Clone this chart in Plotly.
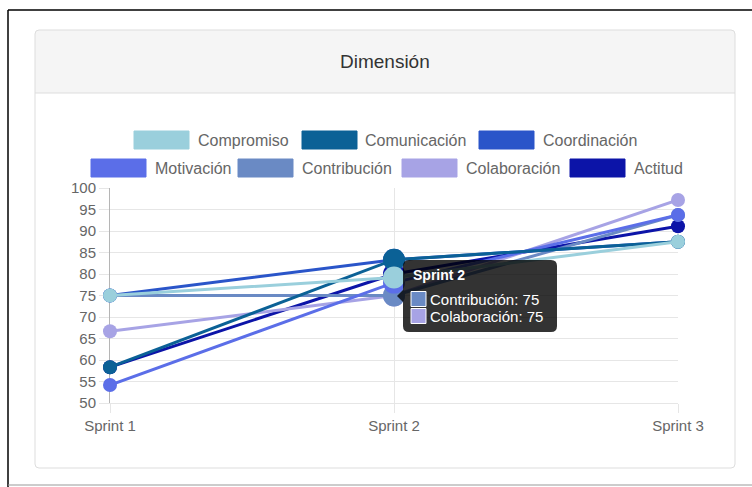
import plotly.graph_objects as go

# ---- data ----
sprints = ["Sprint 1", "Sprint 2", "Sprint 3"]
compromiso = [75, 79.17, 87.5]
comunicacion = [58.33, 83.33, 87.5]
coordinacion = [75, 83.33, 87.5]
motivacion = [54.17, 78, 93.75]
contribucion = [75, 75, 93.75]
colaboracion = [66.67, 75, 97.22]
actitud = [58.33, 80, 91.11]

names = ["Compromiso", "Comunicación", "Coordinación", "Motivación",
         "Contribución", "Colaboración", "Actitud"]
series = [compromiso, comunicacion, coordinacion, motivacion,
          contribucion, colaboracion, actitud]
colors = ["#9acfdc", "#0b6196", "#2a55c9", "#5b6ee8",
          "#6a8ac4", "#a7a3e5", "#0c14a8"]

W, H = 752, 487
PL, PR, PT, PB = 110, 678, 188, 403  # plot area in pixels

FONT = "Liberation Sans, Arial, Helvetica, sans-serif"


def px(x):
    return (x - PL) / (PR - PL)


def py(y):
    return (PB - y) / (PB - PT)


fig = go.Figure()

# first series drawn on top -> add in reverse order
for name, vals, col in reversed(list(zip(names, series, colors))):
    fig.add_trace(go.Scatter(
        x=sprints, y=vals, name=name, mode="lines+markers",
        line=dict(color=col, width=3),
        marker=dict(color=col, size=[14, 22, 14], opacity=1, line=dict(width=0)),
        cliponaxis=False, showlegend=False, hoverinfo="skip",
    ))

shapes = []
annotations = []

# page frame
shapes.append(dict(type="line", xref="paper", yref="paper",
                   x0=px(8), x1=px(760), y0=py(10), y1=py(10),
                   line=dict(color="#000", width=1.5), layer="below"))
shapes.append(dict(type="line", xref="paper", yref="paper",
                   x0=px(8), x1=px(8), y0=py(10), y1=py(490),
                   line=dict(color="#000", width=1.5), layer="below"))
shapes.append(dict(type="line", xref="paper", yref="paper",
                   x0=px(8), x1=px(760), y0=py(485), y1=py(485),
                   line=dict(color="#999", width=1), layer="below"))


def rrect(x0, y0, x1, y1, r, top_only=False):
    X = [px(v) for v in (x0, x0 + r, x1 - r, x1)]
    Y = [py(v) for v in (y0, y0 + r, y1 - r, y1)]
    if top_only:
        return (f"M{X[0]},{Y[3]} L{X[0]},{Y[1]} Q{X[0]},{Y[0]} {X[1]},{Y[0]} "
                f"L{X[2]},{Y[0]} Q{X[3]},{Y[0]} {X[3]},{Y[1]} L{X[3]},{Y[3]} Z")
    return (f"M{X[1]},{Y[0]} L{X[2]},{Y[0]} Q{X[3]},{Y[0]} {X[3]},{Y[1]} "
            f"L{X[3]},{Y[2]} Q{X[3]},{Y[3]} {X[2]},{Y[3]} L{X[1]},{Y[3]} "
            f"Q{X[0]},{Y[3]} {X[0]},{Y[2]} L{X[0]},{Y[1]} Q{X[0]},{Y[0]} {X[1]},{Y[0]} Z")


# card with header
shapes.append(dict(type="path", xref="paper", yref="paper",
                   path=rrect(35, 30, 735, 93, 4, top_only=True),
                   fillcolor="#f5f5f5", line=dict(width=0), layer="below"))
shapes.append(dict(type="line", xref="paper", yref="paper",
                   x0=px(35), x1=px(735), y0=py(93), y1=py(93),
                   line=dict(color="#dddddd", width=1), layer="below"))
shapes.append(dict(type="path", xref="paper", yref="paper",
                   path=rrect(35, 30, 735, 468, 4),
                   fillcolor="rgba(0,0,0,0)", line=dict(color="#dddddd", width=1),
                   layer="below"))
annotations.append(dict(text="Dimensión", xref="paper", yref="paper",
                        x=px(385), y=py(61), xanchor="center", yanchor="middle",
                        showarrow=False, font=dict(family=FONT, size=19, color="#333")))

# legend (two centred rows of boxes + labels)
legend_rows = [
    [(0, 134, 196, 140), (1, 302, 363, 140), (2, 479, 541, 140)],
    [(3, 91, 153, 168), (4, 238, 300, 168), (5, 402, 464, 168), (6, 570, 632, 168)],
]
for row in legend_rows:
    for idx, bx, tx, cy in row:
        shapes.append(dict(type="rect", xref="paper", yref="paper",
                           x0=px(bx), x1=px(bx + 55), y0=py(cy - 9), y1=py(cy + 9),
                           fillcolor=colors[idx], line=dict(color=colors[idx], width=1),
                           layer="above"))
        annotations.append(dict(text=names[idx], xref="paper", yref="paper",
                                x=px(tx), y=py(cy), xanchor="left", yanchor="middle",
                                showarrow=False,
                                font=dict(family=FONT, size=16, color="#666")))

# tooltip for Sprint 2
tip = rrect(403, 260, 557, 332, 6)
shapes.append(dict(type="path", xref="paper", yref="paper", path=tip,
                   fillcolor="rgba(0,0,0,0.8)", line=dict(width=0), layer="above"))
shapes.append(dict(type="path", xref="paper", yref="paper",
                   path=f"M{px(403)},{py(290)} L{px(397)},{py(296)} L{px(403)},{py(302)} Z",
                   fillcolor="rgba(0,0,0,0.8)", line=dict(width=0), layer="above"))
annotations.append(dict(text="<b>Sprint 2</b>", xref="paper", yref="paper",
                        x=px(411), y=py(275), xanchor="left", yanchor="middle",
                        showarrow=False, font=dict(family=FONT, size=14, color="#fff")))
tip_items = [(4, contribucion[1], 299), (5, colaboracion[1], 316)]
for idx, val, cy in tip_items:
    shapes.append(dict(type="rect", xref="paper", yref="paper",
                       x0=px(411), x1=px(426), y0=py(cy - 7.5), y1=py(cy + 7.5),
                       fillcolor=colors[idx], line=dict(color="#fff", width=1),
                       layer="above"))
    annotations.append(dict(text=f"{names[idx]}: {val:g}", xref="paper", yref="paper",
                            x=px(428), y=py(cy), xanchor="left", yanchor="middle",
                            showarrow=False, font=dict(family=FONT, size=15, color="#fff")))

fig.update_layout(
    width=W, height=H,
    margin=dict(l=PL, r=W - PR, t=PT, b=H - PB, pad=0),
    paper_bgcolor="#fff", plot_bgcolor="#fff",
    font=dict(family=FONT, size=15, color="#666"),
    shapes=shapes, annotations=annotations,
    hovermode=False,
    xaxis=dict(type="category", range=[0, 2], showgrid=True, gridcolor="#e6e6e6",
               gridwidth=1, showline=True, linecolor="#e6e6e6", ticks="outside",
               ticklen=9, tickcolor="#e6e6e6", tickfont=dict(size=15, color="#666"),
               zeroline=False, fixedrange=True, layer="below traces"),
    yaxis=dict(range=[50, 100], dtick=5, showgrid=True, gridcolor="#e6e6e6",
               gridwidth=1, showline=True, linecolor="#b5b5b5", ticks="outside",
               ticklen=10, tickcolor="#e6e6e6", tickfont=dict(size=15, color="#666"),
               zeroline=False, fixedrange=True, layer="below traces"),
)

fig.write_html("out.html", config=dict(displayModeBar=False))
